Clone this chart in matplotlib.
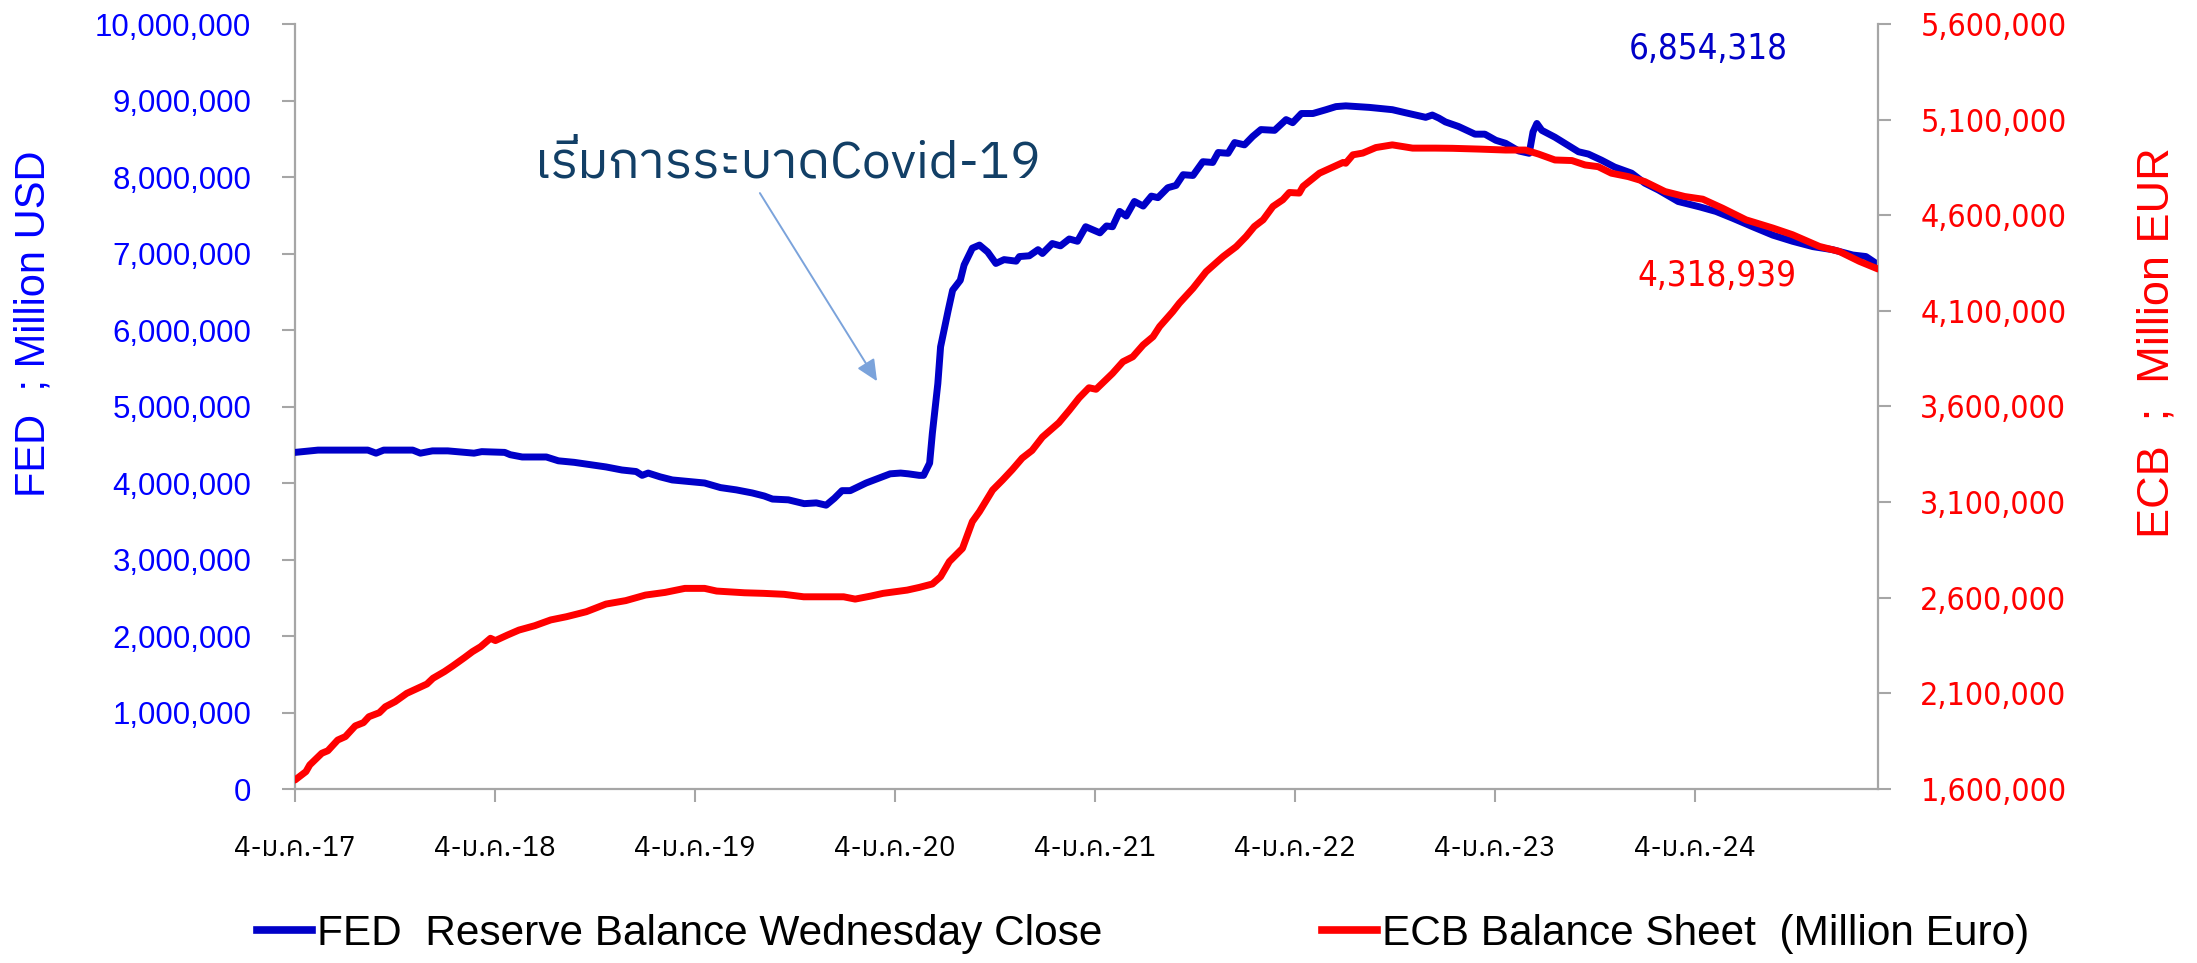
import matplotlib
matplotlib.use("Agg")
import matplotlib.pyplot as plt
import matplotlib.ticker as mticker
from matplotlib import font_manager
from matplotlib.lines import Line2D
import pandas as pd

# ---------------- data ----------------
fed_dates = [
    "2017-01-04", "2017-02-15", "2017-05-17", "2017-06-01", "2017-06-15", "2017-08-07",
    "2017-08-21", "2017-09-12", "2017-10-10", "2017-11-27", "2017-12-11", "2018-01-22",
    "2018-02-01", "2018-02-23", "2018-04-08", "2018-04-30", "2018-05-29", "2018-06-27",
    "2018-07-26", "2018-08-24", "2018-09-19", "2018-09-30", "2018-10-11", "2018-11-02",
    "2018-11-24", "2018-12-23", "2019-01-22", "2019-02-20", "2019-03-21", "2019-04-19",
    "2019-05-11", "2019-05-26", "2019-06-24", "2019-07-23", "2019-08-14", "2019-09-01",
    "2019-09-16", "2019-09-30", "2019-10-15", "2019-11-13", "2019-12-12", "2019-12-27",
    "2020-01-15", "2020-01-29", "2020-02-18", "2020-02-26", "2020-03-08", "2020-03-13",
    "2020-03-23", "2020-03-28", "2020-04-11", "2020-04-19", "2020-05-03", "2020-05-10",
    "2020-05-25", "2020-06-07", "2020-06-22", "2020-07-07", "2020-07-22", "2020-08-13",
    "2020-08-19", "2020-09-06", "2020-09-22", "2020-09-30", "2020-10-18", "2020-11-02",
    "2020-11-18", "2020-12-03", "2020-12-18", "2021-01-13", "2021-01-25", "2021-02-05",
    "2021-02-18", "2021-03-02", "2021-03-17", "2021-04-02", "2021-04-17", "2021-04-29",
    "2021-05-17", "2021-06-01", "2021-06-14", "2021-07-02", "2021-07-20", "2021-08-07",
    "2021-08-17", "2021-09-04", "2021-09-16", "2021-10-04", "2021-10-19", "2021-11-03",
    "2021-11-28", "2021-12-19", "2021-12-31", "2022-01-16", "2022-02-06", "2022-03-02",
    "2022-03-20", "2022-04-07", "2022-05-20", "2022-07-01", "2022-07-25", "2022-08-31",
    "2022-09-12", "2022-09-24", "2022-10-06", "2022-10-30", "2022-11-29", "2022-12-17",
    "2023-01-06", "2023-01-24", "2023-02-17", "2023-03-08", "2023-03-15", "2023-03-22",
    "2023-03-31", "2023-04-24", "2023-05-12", "2023-06-06", "2023-06-24", "2023-07-18",
    "2023-08-11", "2023-09-11", "2023-10-05", "2023-10-30", "2023-12-05", "2024-01-13",
    "2024-02-12", "2024-03-14", "2024-04-19", "2024-05-26", "2024-07-01", "2024-08-07",
    "2024-09-12", "2024-10-19", "2024-11-12", "2024-12-04",
]
fed_values = [
    4400000, 4430000, 4430000, 4390000, 4430000, 4430000,
    4390000, 4420000, 4420000, 4390000, 4410000, 4400000,
    4370000, 4340000, 4340000, 4290000, 4270000, 4240000,
    4210000, 4170000, 4150000, 4100000, 4130000, 4080000,
    4040000, 4020000, 4000000, 3940000, 3910000, 3870000,
    3830000, 3790000, 3780000, 3730000, 3740000, 3710000,
    3800000, 3900000, 3900000, 4000000, 4080000, 4120000,
    4130000, 4120000, 4100000, 4100000, 4260000, 4650000,
    5300000, 5780000, 6260000, 6520000, 6650000, 6850000,
    7070000, 7110000, 7020000, 6870000, 6920000, 6900000,
    6960000, 6970000, 7050000, 7000000, 7130000, 7100000,
    7190000, 7160000, 7350000, 7270000, 7360000, 7350000,
    7550000, 7490000, 7680000, 7620000, 7750000, 7730000,
    7860000, 7890000, 8030000, 8020000, 8200000, 8190000,
    8320000, 8310000, 8450000, 8420000, 8530000, 8620000,
    8610000, 8750000, 8710000, 8830000, 8830000, 8880000,
    8920000, 8930000, 8910000, 8880000, 8840000, 8780000,
    8810000, 8770000, 8720000, 8660000, 8560000, 8560000,
    8480000, 8440000, 8340000, 8310000, 8590000, 8700000,
    8610000, 8520000, 8440000, 8330000, 8300000, 8220000,
    8130000, 8050000, 7920000, 7830000, 7680000, 7610000,
    7550000, 7460000, 7350000, 7240000, 7160000, 7090000,
    7050000, 6980000, 6960000, 6854318,
]

ecb_dates = [
    "2017-01-04", "2017-01-24", "2017-01-31", "2017-02-22", "2017-03-05", "2017-03-23",
    "2017-04-06", "2017-04-24", "2017-05-09", "2017-05-19", "2017-06-07", "2017-06-18",
    "2017-07-06", "2017-07-27", "2017-09-02", "2017-09-13", "2017-10-04", "2017-10-19",
    "2017-11-10", "2017-11-24", "2017-12-09", "2017-12-27", "2018-01-05", "2018-01-27",
    "2018-02-17", "2018-03-18", "2018-04-16", "2018-05-15", "2018-06-20", "2018-07-26",
    "2018-08-31", "2018-10-06", "2018-11-11", "2018-12-17", "2019-01-22", "2019-02-13",
    "2019-04-05", "2019-05-10", "2019-06-16", "2019-07-22", "2019-10-03", "2019-10-24",
    "2019-11-22", "2019-12-14", "2020-01-27", "2020-02-18", "2020-03-13", "2020-03-28",
    "2020-04-13", "2020-05-07", "2020-05-25", "2020-06-07", "2020-07-01", "2020-07-19",
    "2020-08-06", "2020-08-24", "2020-09-11", "2020-09-30", "2020-10-30", "2020-11-18",
    "2020-12-06", "2020-12-24", "2021-01-06", "2021-02-05", "2021-02-24", "2021-03-14",
    "2021-04-02", "2021-04-20", "2021-05-02", "2021-05-26", "2021-06-07", "2021-07-02",
    "2021-07-26", "2021-08-26", "2021-09-19", "2021-10-07", "2021-10-22", "2021-11-07",
    "2021-11-25", "2021-12-13", "2021-12-25", "2022-01-12", "2022-01-19", "2022-02-18",
    "2022-04-02", "2022-04-07", "2022-04-20", "2022-05-08", "2022-06-01", "2022-07-01",
    "2022-08-07", "2022-09-18", "2022-10-19", "2022-12-06", "2023-01-24", "2023-03-01",
    "2023-03-25", "2023-04-24", "2023-05-25", "2023-06-18", "2023-07-12", "2023-08-05",
    "2023-09-05", "2023-10-05", "2023-11-11", "2023-12-17", "2024-01-19", "2024-02-24",
    "2024-04-07", "2024-05-26", "2024-07-01", "2024-08-19", "2024-09-24", "2024-10-31",
    "2024-12-04",
]
ecb_values = [
    1647000, 1691000, 1726000, 1787000, 1800000, 1856000,
    1874000, 1930000, 1947000, 1978000, 1999000, 2030000,
    2057000, 2100000, 2149000, 2179000, 2214000, 2243000,
    2288000, 2318000, 2344000, 2388000, 2376000, 2405000,
    2431000, 2454000, 2484000, 2501000, 2527000, 2567000,
    2585000, 2614000, 2628000, 2649000, 2649000, 2635000,
    2626000, 2623000, 2618000, 2605000, 2605000, 2593000,
    2609000, 2623000, 2640000, 2654000, 2672000, 2710000,
    2789000, 2858000, 2998000, 3050000, 3163000, 3215000,
    3270000, 3330000, 3370000, 3440000, 3515000, 3580000,
    3645000, 3698000, 3690000, 3773000, 3834000, 3860000,
    3922000, 3965000, 4018000, 4096000, 4140000, 4218000,
    4305000, 4384000, 4436000, 4489000, 4541000, 4576000,
    4646000, 4681000, 4719000, 4716000, 4751000, 4820000,
    4876000, 4872000, 4916000, 4925000, 4954000, 4968000,
    4951000, 4951000, 4950000, 4946000, 4941000, 4941000,
    4920000, 4889000, 4886000, 4863000, 4854000, 4820000,
    4802000, 4776000, 4724000, 4698000, 4684000, 4637000,
    4576000, 4533000, 4498000, 4437000, 4411000, 4359000,
    4318939,
]

x_tick_dates = ["2017-01-04", "2018-01-04", "2019-01-04", "2020-01-04",
                "2021-01-04", "2022-01-04", "2023-01-04", "2024-01-04"]
x_tick_labels = ["4-ม.ค.-17", "4-ม.ค.-18", "4-ม.ค.-19", "4-ม.ค.-20",
                 "4-ม.ค.-21", "4-ม.ค.-22", "4-ม.ค.-23", "4-ม.ค.-24"]
fed_ticks = [0, 1000000, 2000000, 3000000, 4000000, 5000000,
             6000000, 7000000, 8000000, 9000000, 10000000]
ecb_ticks = [1600000, 2100000, 2600000, 3100000, 3600000,
             4100000, 4600000, 5100000, 5600000]

fed_label = "FED  Reserve Balance Wednesday Close"
ecb_label = "ECB Balance Sheet  (Million Euro)"
fed_axis_title = "FED  ; Million USD"
ecb_axis_title = "ECB  ;  Million EUR"
fed_last_text = "6,854,318"
ecb_last_text = "4,318,939"
covid_text = "เริ่มการระบาดCovid-19"


# ---------------- fonts ----------------
def find_thai_family():
    try:
        from fontTools.ttLib import TTFont
    except Exception:
        return None
    found = []
    for fe in font_manager.fontManager.ttflist:
        path = fe.fname
        try:
            if path.lower().endswith((".ttc", ".otc")):
                f = TTFont(path, fontNumber=0, lazy=True)
            else:
                f = TTFont(path, lazy=True)
            cmap = f.getBestCmap()
            if cmap and 0x0E21 in cmap and 0x0E01 in cmap:
                found.append(fe.name)
        except Exception:
            continue
    if not found:
        return None
    for name in found:
        if "Thai" in name and "Sans" in name:
            return name
    return found[0]


thai = find_thai_family()
thai_family = [thai, "DejaVu Sans"] if thai else ["DejaVu Sans"]

BLUE_LINE = "#0000C8"
RED_LINE = "#FF0000"
BLUE_TXT = "#0000FF"
RED_TXT = "#FF0000"
SPINE = "#A6A6A6"

fig = plt.figure(figsize=(21.97, 9.63), dpi=100)
ax = fig.add_axes([295 / 2197, 1 - 789 / 963, (1878 - 295) / 2197, (789 - 24) / 963])
ax2 = ax.twinx()

fd = pd.to_datetime(fed_dates)
ed = pd.to_datetime(ecb_dates)

ax.plot(fd, fed_values, color=BLUE_LINE, lw=5, solid_joinstyle="round",
        solid_capstyle="round", zorder=3)
ax2.plot(ed, ecb_values, color=RED_LINE, lw=5, solid_joinstyle="round",
         solid_capstyle="round", zorder=3)

ax.set_xlim(pd.Timestamp("2017-01-04"), pd.Timestamp("2024-12-04"))
ax.set_ylim(0, 10000000)
ax2.set_ylim(1600000, 5600000)

ax.set_yticks(fed_ticks)
ax2.set_yticks(ecb_ticks)
fmt = mticker.StrMethodFormatter("{x:,.0f}")
ax.yaxis.set_major_formatter(fmt)
ax2.yaxis.set_major_formatter(fmt)

ax.set_xticks(pd.to_datetime(x_tick_dates))
ax.set_xticklabels(x_tick_labels, fontfamily=thai_family, fontsize=20, color="black")

for a in (ax, ax2):
    a.spines["top"].set_visible(False)
    for s in ("left", "right", "bottom"):
        a.spines[s].set_color(SPINE)
        a.spines[s].set_linewidth(1.6)
    a.set_facecolor("none")

ax.spines["right"].set_visible(False)
ax2.spines["left"].set_visible(False)
ax2.spines["bottom"].set_visible(False)

ax.tick_params(axis="y", direction="out", length=9.5, width=1.5, color=SPINE,
               labelcolor=BLUE_TXT, labelsize=22.5, pad=22)
ax.tick_params(axis="x", direction="out", length=9, width=1.5, color=SPINE, pad=24)
ax2.tick_params(axis="y", direction="out", length=9.5, width=1.5, color=SPINE,
                labelcolor=RED_TXT, labelsize=23, pad=21)
for lab in ax.get_yticklabels():
    lab.set_fontfamily("Liberation Sans")
for lab in ax2.get_yticklabels():
    lab.set_fontfamily("DejaVu Sans")
    lab.set_fontstretch("condensed")

ax.set_ylabel(fed_axis_title, color=BLUE_TXT, fontsize=30, fontfamily="Liberation Sans")
ax.yaxis.set_label_coords(-0.1525, 0.608)
ax2.set_ylabel(ecb_axis_title, color=RED_TXT, fontsize=32.5, fontfamily="Liberation Sans",
               rotation=90)
ax2.yaxis.set_label_coords(1.163, 0.583)

# value labels
ax.text(pd.Timestamp("2024-01-29"), 9670000, fed_last_text, color=BLUE_LINE,
        fontsize=25, ha="center", va="center", fontfamily="DejaVu Sans",
        fontstretch="condensed")
ax2.text(pd.Timestamp("2024-02-14"), 4280000, ecb_last_text, color=RED_TXT,
         fontsize=25, ha="center", va="center", fontfamily="DejaVu Sans",
         fontstretch="condensed")

# annotation
ax.text(pd.Timestamp("2019-06-22"), 8170000, covid_text, color="#123F66", fontsize=37,
        ha="center", va="center", fontfamily=thai_family)
ax.annotate("", xy=(pd.Timestamp("2019-12-03"), 5330000),
            xytext=(pd.Timestamp("2019-05-03"), 7790000),
            arrowprops=dict(arrowstyle="-|>,head_length=1.3,head_width=0.6",
                            color="#7BA3DB", lw=1.4, shrinkA=0, shrinkB=0))

# legend
handles = [Line2D([0], [0], color=BLUE_LINE, lw=5.5),
           Line2D([0], [0], color=RED_LINE, lw=5.5)]
fig.legend(handles, [fed_label, ecb_label], loc="center",
           bbox_to_anchor=(1143 / 2197, 1 - 934 / 963), ncol=2, frameon=False,
           prop={"family": ["Liberation Sans Narrow", "Liberation Sans"], "size": 30.5},
           handlelength=1.3, handletextpad=0.1, columnspacing=5.2)

fig.savefig("out.png", dpi=100)
